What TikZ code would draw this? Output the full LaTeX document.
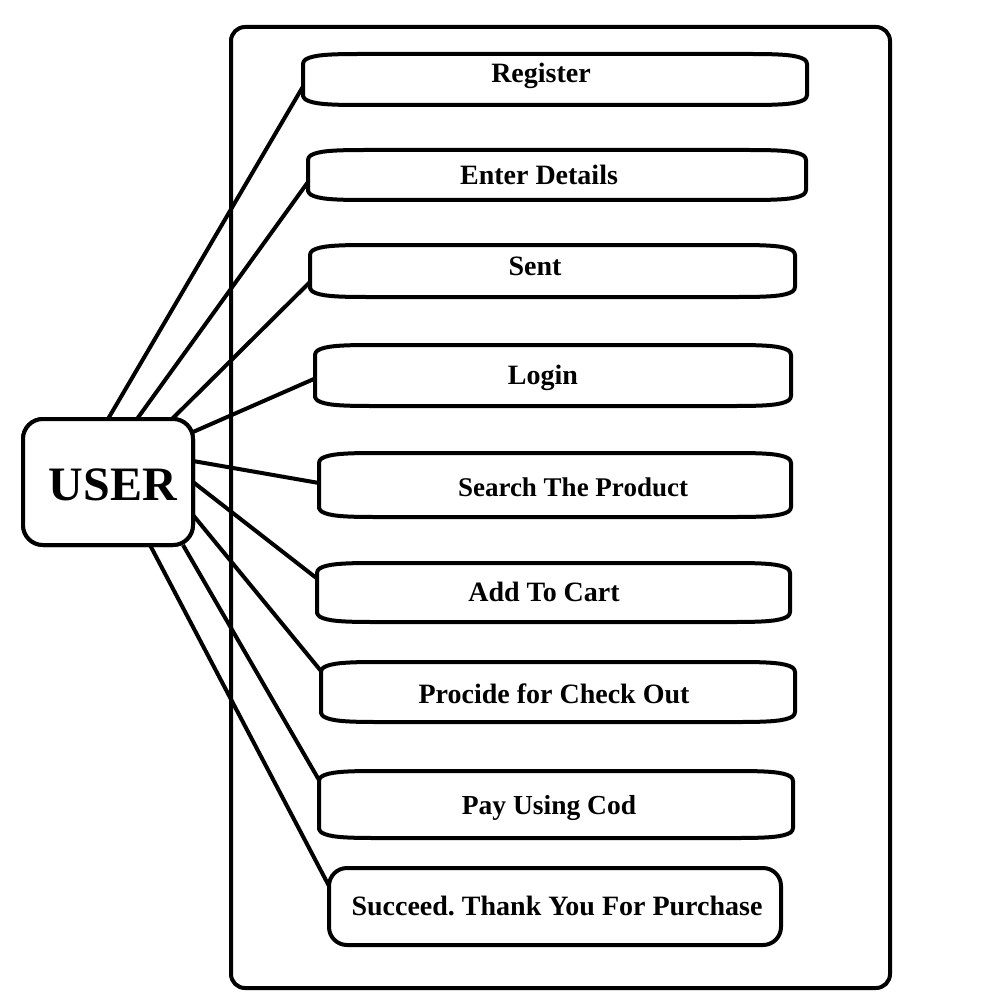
\documentclass[tikz,border=0pt]{standalone}
\usepackage{fontspec}
\setmainfont{Liberation Serif}
\frenchspacing
\usetikzlibrary{calc}
% flat box with bowed top and bottom edges, drawn around an invisible node
\newcommand\barrelbox[1]{%
  \draw[fill=white, rounded corners=3pt]
    (#1.south west) -- (#1.north west)
    .. controls ($(#1.north west)+(10,-6)$) and ($(#1.north west)+(25,-7)$) .. ($(#1.north west)+(60,-7)$)
    -- ($(#1.north east)+(-60,-7)$)
    .. controls ($(#1.north east)+(-25,-7)$) and ($(#1.north east)+(-10,-6)$) .. (#1.north east)
    -- (#1.south east)
    .. controls ($(#1.south east)+(-10,6)$) and ($(#1.south east)+(-25,7)$) .. ($(#1.south east)+(-60,7)$)
    -- ($(#1.south west)+(60,7)$)
    .. controls ($(#1.south west)+(25,7)$) and ($(#1.south west)+(10,6)$) .. cycle;}
\begin{document}
\begin{tikzpicture}[x=1pt,y=-1pt,line width=4pt,line join=round,
  ucbox/.style={draw=none,rectangle,inner sep=0pt,outer sep=0pt},
  uctext/.style={font=\fontsize{28}{32}\selectfont\bfseries,inner sep=0pt,anchor=base},
  actor/.style={draw,fill=white,rectangle,rounded corners=20pt,inner sep=0pt,outer sep=0pt,
    minimum width=170,minimum height=126},
  wire/.style={line width=4pt}]
\useasboundingbox[fill=white] (0,0) rectangle (1000,1000);

% system boundary
\node[draw,rectangle,rounded corners=14pt,minimum width=659,minimum height=961,outer sep=0pt]
  (system) at (560.5,507.5) {};

% actor
\node[actor] (user) at (108,482) {};

% use case boxes (invisible nodes, outlines drawn below)
\node[ucbox,minimum width=504,minimum height=37] (uc1) at (555,79.5) {};
\node[ucbox,minimum width=498,minimum height=36] (uc2) at (557,175) {};
\node[ucbox,minimum width=485,minimum height=38] (uc3) at (552.5,271) {};
\node[ucbox,minimum width=476,minimum height=47] (uc4) at (553,375.5) {};
\node[ucbox,minimum width=472,minimum height=50] (uc5) at (555,485) {};
\node[ucbox,minimum width=473,minimum height=45] (uc6) at (553.5,592.5) {};
\node[ucbox,minimum width=474,minimum height=46] (uc7) at (558,692) {};
\node[ucbox,minimum width=474,minimum height=53] (uc8) at (556,804.5) {};
\node[ucbox,minimum width=452,minimum height=77] (uc9) at (555,906.5) {};

% associations
\draw[wire] (user.north) -- ([yshift=-7pt]uc1.west);
\draw[wire] ([xshift=29pt]user.north) -- ([yshift=-7pt]uc2.west);
\draw[wire] ([xshift=64pt]user.north) -- ([yshift=-11pt]uc3.west);
\draw[wire] ([yshift=50pt]user.east) -- ([yshift=-3pt]uc4.west);
\draw[wire] ([yshift=21pt]user.east) -- ([yshift=2pt]uc5.west);
\draw[wire] (user.east) -- ([yshift=14pt]uc6.west);
\draw[wire] ([yshift=-33pt]user.east) -- ([yshift=-2pt]uc7.north west);
\draw[wire] ([xshift=75pt]user.south) -- ([yshift=-2pt]uc8.north west);
\draw[wire] ([xshift=42pt]user.south) -- ([yshift=-18pt]uc9.north west);

% actor outline on top of the wire ends
\node[actor] (useragain) at (108,482) {};
\node[font=\fontsize{48}{54}\selectfont\bfseries,inner sep=0pt,anchor=base] (userlabel) at (113,500) {USER};

% outlines
\foreach \n in {uc1,uc2,uc3,uc4,uc5,uc6,uc7,uc8} {\barrelbox{\n}}
\draw[fill=white,rounded corners=18pt] (uc9.north west) rectangle (uc9.south east);

% labels
\node[uctext] (t1) at (541,83) {Register};
\node[uctext] (t2) at (539,185) {Enter Details};
\node[uctext] (t3) at (535,275) {Sent};
\node[uctext] (t4) at (543,384) {Login};
\node[uctext,font=\fontsize{27}{30}\selectfont\bfseries] (t5) at (573,496) {Search The Product};
\node[uctext] (t6) at (544,601) {Add To Cart};
\node[uctext] (t7) at (554,703) {Procide for Check Out};
\node[uctext,font=\fontsize{27.5}{30}\selectfont\bfseries] (t8) at (549,814) {Pay Using Cod};
\node[uctext] (t9) at (557,915) {Succeed. Thank You For Purchase};
\end{tikzpicture}
\end{document}
